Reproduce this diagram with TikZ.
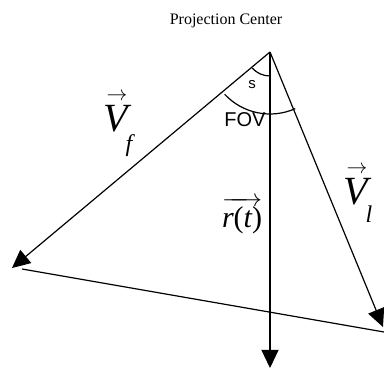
\documentclass[tikz,border=0pt]{standalone}
\usepackage{amsmath}
\usepackage{fontspec}
\setmainfont{Liberation Serif}
\setsansfont{Liberation Sans}
\usetikzlibrary{arrows.meta}
\newcommand{\vlab}[3]{$\overset{\kern3pt\scriptscriptstyle\rightarrow}{\text{\itshape #1}}$\kern-2pt\raisebox{#3}{\fontsize{24}{24}\selectfont\itshape #2}}

\begin{document}
\begin{tikzpicture}[
  x=1pt, y=1pt,
  ray/.style={line width=1.2pt, -{Triangle[length=18pt,width=17pt]}},
  edge/.style={line width=1.2pt},
  ang/.style={line width=1.2pt},
  big/.style={font=\fontsize{40}{40}\selectfont, inner sep=0pt, anchor=base west}]
\useasboundingbox (0,0) rectangle (384,369);

% points
\coordinate (pc) at (270,317);
\coordinate (vf) at (12,101);
\coordinate (vl) at (383,42);
\coordinate (rt) at (270,1);
\coordinate (bl) at (22,100);
\coordinate (br) at (384,37);

% labels
\node[font=\fontsize{16}{16}\selectfont, anchor=base] (title) at (226,344) {Projection Center};
\node[font=\sffamily\fontsize{15}{15}\selectfont, inner sep=0pt] (s) at (252,284) {s};
\node[font=\sffamily\fontsize{20}{20}\selectfont, inner sep=0pt] (fov) at (245,249) {FOV};
\node[big] (lvf) at (103,237) {\vlab{V}{f}{-20pt}};
\node[big] (lvl) at (343,164) {\vlab{V}{l}{-18pt}};
\node[font=\fontsize{30}{30}\selectfont, inner sep=0pt] (lrt) at (242,153)
  {$\overrightarrow{\text{\itshape r\upshape(\itshape t\upshape)}}$};

% rays and base
\draw[ray] (pc) -- (vf);
\draw[ray] (pc) -- (vl);
\draw[ray] (pc) -- (rt);
\draw[edge] (bl) -- (br);

% angles
\draw[ang] ([shift={(222:24)}]pc) arc[start angle=222, end angle=270, radius=24];
\draw[ang] ([shift={(223:62)}]pc) arc[start angle=223, end angle=294, radius=62];
\end{tikzpicture}
\end{document}
